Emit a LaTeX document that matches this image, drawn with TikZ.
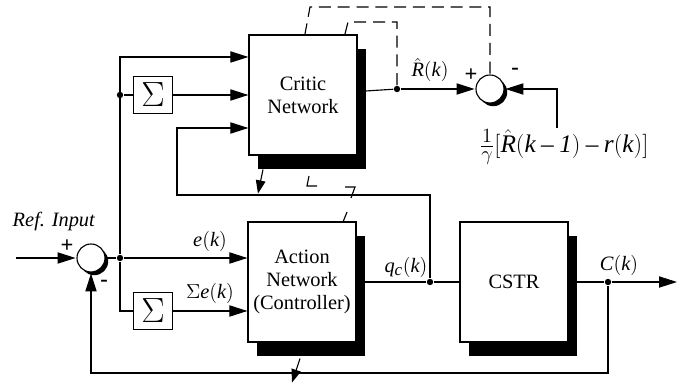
\documentclass[tikz,border=0pt]{standalone}
\usepackage{fontspec}
\setmainfont{Liberation Serif}
\usepackage[italic]{mathastext}
\usetikzlibrary{arrows.meta,shadows}

\tikzset{
  blk/.style={draw,fill=white,minimum width=2.7cm,minimum height=3cm,align=center,
    drop shadow={shadow xshift=0.22cm,shadow yshift=-0.36cm,fill=black,opacity=1}},
  sumbox/.style={draw,fill=white,minimum width=0.98cm,minimum height=0.93cm,inner sep=0pt,
    font=\fontsize{30}{30}\selectfont},
  junc/.style={circle,draw,fill=white,minimum size=0.7cm,inner sep=0pt,outer sep=1pt,
    drop shadow={shadow xshift=0.08cm,shadow yshift=-0.08cm,fill=black,opacity=1}},
  dot/.style={circle,fill=black,inner sep=0pt,minimum size=0.16cm},
  sig/.style={-{Triangle[length=0.45cm,width=0.28cm]}},
  tip/.style={-{Triangle[length=0.33cm,width=0.24cm]}},
  fb/.style={dash pattern=on 0.3cm off 0.17cm},
  lbl/.style={inner sep=1pt},
  sgn/.style={inner sep=1pt,font=\fontsize{16}{16}\selectfont\bfseries},
}

\begin{document}
\begin{tikzpicture}[x=0.025cm,y=-0.025cm,line width=0.8pt,font=\fontsize{14.5}{16.5}\selectfont]
\useasboundingbox (0,0) rectangle (698,385);
% blocks
\node[blk] (critic) at (303,95) {Critic\\Network};
\node[blk] (action) at (302,282) {Action\\Network\\(Controller)};
\node[blk] (cstr) at (514,282) {CSTR};
\node[sumbox] (s1) at (153,95) {$\Sigma$};
\node[sumbox] (s2) at (153,311) {$\Sigma$};
\node[junc] (lc) at (91,258) {};
\node[junc] (rc) at (490,89) {};
% branch points
\node[dot] (sp1) at (120,258) {};
\node[dot] (sp2) at (120,95) {};
\node[dot] (rd) at (397,89) {};
\node[dot] (qd) at (430,282) {};
\node[dot] (cd) at (608,282) {};
\coordinate (in) at (16,258);
\coordinate (out) at (677,282);
\coordinate (gin) at (557,128);

% error paths
\draw[sig] (in) -- (lc);
\draw (lc) -- (sp1);
\draw[sig] (sp1) -- (sp1 -| action.west);
\draw[sig] (sp1) |- ([yshift=0.95cm]critic.west);
\draw (sp1) |- (s2.west);
\draw[sig] (s2) -- (s2 -| action.west);
\draw (sp2) -- (s1);
\draw[sig] (s1) -- (critic.west);
\draw[sig] (qd) |- (177,195) |- ([yshift=-0.825cm]critic.west);
% plant
\draw (action) -- (qd) -- (cstr);
\draw (cstr) -- (cd);
\draw[sig] (cd) -- (out);
\draw[sig] (cd) -- ++(0,91) -| (lc);
% critic output
\draw (critic) -- (rd);
\draw[sig] (rd) -- (rc);
\draw[sig] (gin) |- (rc);
\draw[fb] (rc.north) |- (310,7) -- (305,34);
\draw[fb] (rd) |- (348,22) -- (345,34);
% weight update marks
\draw[tip] ([xshift=-1cm,yshift=-0.35cm]critic.south) -- ++(-5,24);
\draw[tip] ([xshift=-0.05cm,yshift=-0.4cm]action.south) -- ++(-8,24);
\draw (309,176) -- (307,186) -- (317,186);
\draw (345,187) -- (355,187) -- (351,198);
\draw (343,222) -- (347,212);

% labels
\node[lbl] (ref) at (54,221) {\textit{Ref. Input}};
\node[sgn] (p1) at (67,246) {+};
\node[sgn] (m1) at (104,283) {-};
\node[sgn] (p2) at (471,75) {+};
\node[sgn] (m2) at (515,71) {-};
\node[lbl] (ek) at (210,241) {$e(k)$};
\node[lbl] (sek) at (210,293) {$\Sigma e(k)$};
\node[lbl] (qc) at (406,267) {$q_c(k)$};
\node[lbl] (ck) at (619,265) {$C(k)$};
\node[lbl] (rk) at (430,70) {$\hat{R}(k)$};
\node[lbl,font=\fontsize{18}{20}\selectfont] (gam) at (564,147) {$\frac{1}{\gamma}[\hat{R}(k-\mathit{1})-r(k)]$};
\end{tikzpicture}
\end{document}
